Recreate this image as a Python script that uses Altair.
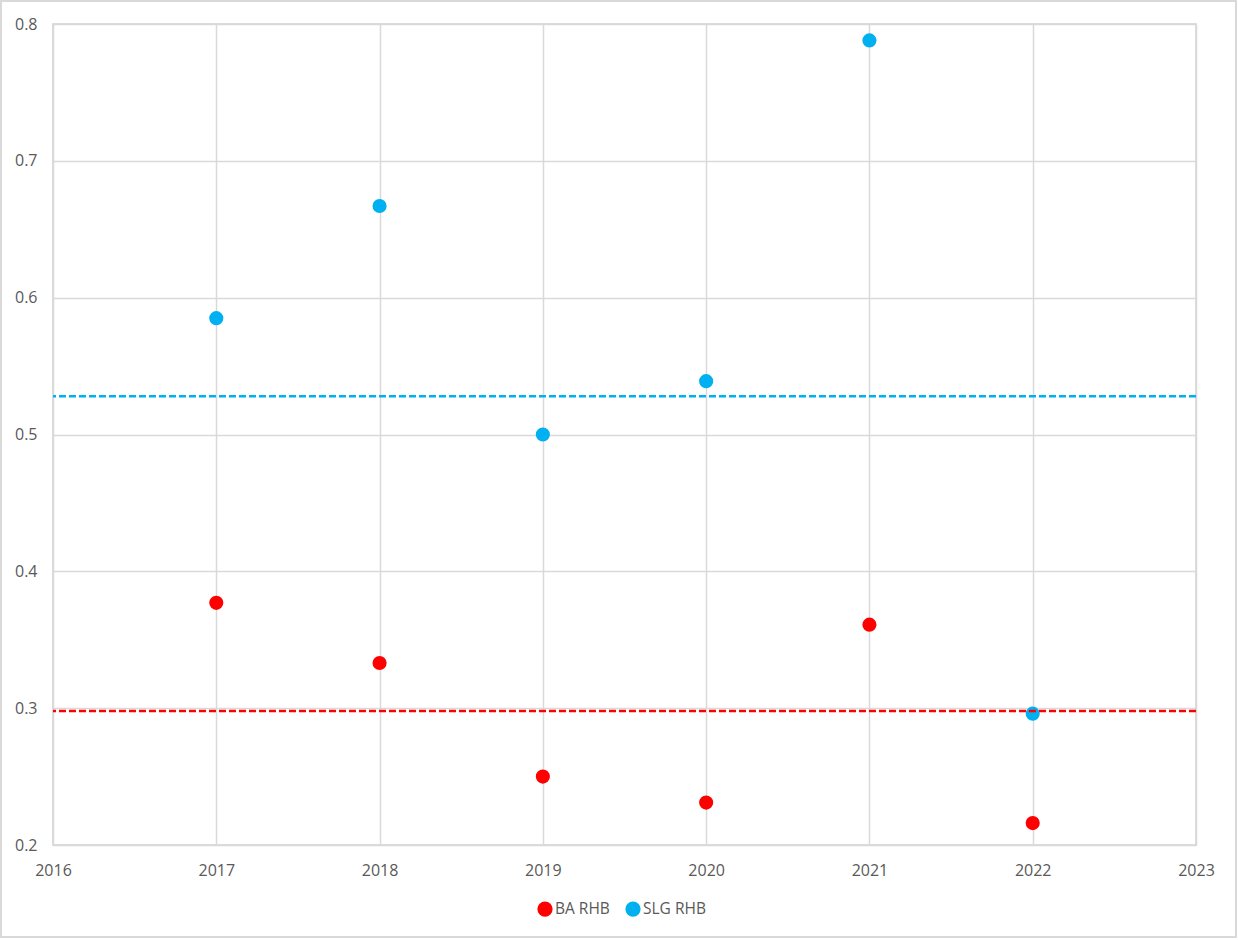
import altair as alt
import pandas as pd

years = [2017, 2018, 2019, 2020, 2021, 2022]
ba_rhb = [0.377, 0.333, 0.250, 0.231, 0.361, 0.216]
slg_rhb = [0.585, 0.667, 0.500, 0.539, 0.788, 0.296]
series_names = ["BA RHB", "SLG RHB"]
series_colors = ["#FF0000", "#00B0F0"]
ref_values = [0.298, 0.528]
x_ticks = [2016, 2017, 2018, 2019, 2020, 2021, 2022, 2023]
y_ticks = [0.2, 0.3, 0.4, 0.5, 0.6, 0.7, 0.8]

rows = []
for y, v in zip(years, ba_rhb):
    rows.append({"Year": y, "Value": v, "Series": series_names[0]})
for y, v in zip(years, slg_rhb):
    rows.append({"Year": y, "Value": v, "Series": series_names[1]})
df = pd.DataFrame(rows)
ref_df = pd.DataFrame({"Series": series_names, "Value": ref_values})

W, H = 1143, 821
PAD = {"left": 53, "top": 24, "right": 42, "bottom": 95}

font = "Open Sans"
color_scale = alt.Scale(domain=series_names, range=series_colors)
y_scale = alt.Scale(domain=[0.2, 0.8], nice=False, zero=False)

x_axis = alt.Axis(values=x_ticks, format="d", title=None, labelPadding=17, labelFlush=False,
                  ticks=False, domain=False, gridColor="#D9D9D9", gridWidth=1.5,
                  labelFont=font, labelFontSize=16, labelColor="#595959")
y_axis = alt.Axis(values=y_ticks, format=".1f", title=None, labelPadding=16, labelFlush=False,
                  ticks=False, domain=False, gridColor="#D9D9D9", gridWidth=1.5,
                  labelFont=font, labelFontSize=16, labelColor="#595959")

x_enc = alt.X("Year:Q", scale=alt.Scale(domain=[2016, 2023], nice=False, zero=False), axis=x_axis)
y_enc = alt.Y("Value:Q", scale=y_scale, axis=y_axis)

border = alt.Chart(pd.DataFrame({"a": [0]})).mark_rect(
    fill=None, stroke="#D9D9D9", strokeWidth=2, clip=False
).encode(
    x=alt.value(-PAD["left"] + 1), x2=alt.value(W + PAD["right"] - 2),
    y=alt.value(-PAD["top"] + 1), y2=alt.value(H + PAD["bottom"] - 3),
)

rules = alt.Chart(ref_df).mark_rule(strokeWidth=2.5, strokeDash=[7, 3]).encode(
    y=y_enc,
    color=alt.Color("Series:N", scale=color_scale, legend=None),
)

points = alt.Chart(df).mark_circle(size=200, opacity=1).encode(
    x=x_enc,
    y=y_enc,
    color=alt.Color("Series:N", scale=color_scale,
                    legend=alt.Legend(title=None, orient="none", direction="horizontal",
                                      legendX=484, legendY=H + 56,
                                      symbolType="circle", symbolSize=190,
                                      symbolOpacity=1, labelOffset=2, columnPadding=13,
                                      labelFont=font, labelFontSize=15.5,
                                      labelColor="#595959")),
)

chart = alt.layer(border, points, rules).properties(
    width=W, height=H, padding=PAD,
    autosize=alt.AutoSizeParams(type="none"),
    background="white",
).configure_view(stroke="#D0D0D0", strokeWidth=1.5)

chart.save("out.html", embed_options={"renderer": "svg", "actions": False})
